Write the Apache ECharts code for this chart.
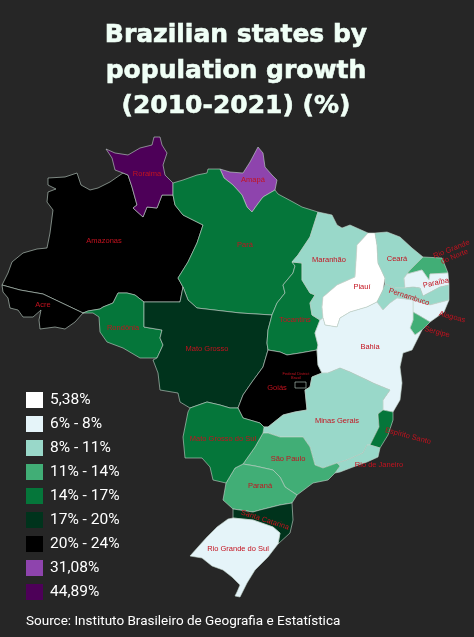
<!DOCTYPE html>
<html lang="en">
<head>
<meta charset="UTF-8">
<title>Brazilian states by population growth</title>
<script src="https://cdn.jsdelivr.net/npm/echarts@6/dist/echarts.min.js"></script>
<style>
html,body{margin:0;padding:0;background:#262626}
#main{width:474px;height:637px}
</style>
</head>
<body>
<div id="main"></div>
<script>
var titleText = 'Brazilian states by\npopulation growth\n(2010-2021) (%)';
var sourceText = 'Source: Instituto Brasileiro de Geografia e Estatística';

// classes of the legend
var classLabels = ['5,38%', '6% - 8%', '8% - 11%', '11% - 14%', '14% - 17%', '17% - 20%', '20% - 24%', '31,08%', '44,89%'];
var classMin = [5.38, 6, 8, 11, 14, 17, 20, 31.08, 44.89];
var classMax = [5.38, 8, 11, 14, 17, 20, 24, 31.08, 44.89];
var classColors = ['#ffffff', '#e5f4f9', '#99d8c9', '#41ae76', '#05763a', '#00331c', '#000000', '#8e44ad', '#4d0058'];

var stateNames = ['Amazonas', 'Acre', 'Rondônia', 'Roraima', 'Amapá', 'Pará', 'Mato Grosso', 'Tocantins', 'Goiás',
    'Maranhão', 'Piauí', 'Ceará', 'Rio Grande do Norte', 'Paraíba', 'Pernambuco', 'Alagoas', 'Sergipe', 'Bahia',
    'Minas Gerais', 'Espírito Santo', 'Rio de Janeiro', 'São Paulo', 'Paraná', 'Mato Grosso do Sul',
    'Santa Catarina', 'Rio Grande do Sul', 'Federal District'];
var stateGrowth = [22, 22, 15.5, 44.89, 31.08, 15.5, 18.5, 15.5, 22,
    9.5, 5.38, 9.5, 12.5, 7, 9.5, 7, 12.5, 7,
    9.5, 15.5, 9.5, 12.5, 12.5, 15.5,
    18.5, 7, 22];

// outlines, flat x,y pairs
var stateOutlines = [
    [2,285,8,273,12,262,23,253,37,249,47,248,50,233,53,210,47,202,48,192,56,189,48,185,48,178,65,177,77,173,81,185,90,190,98,188,110,182,123,173,128,175,132,187,137,205,133,208,143,217,147,207,157,208,162,195,173,195,175,205,183,215,203,225,197,243,188,262,178,278,183,287,180,302,144,302,135,295,127,293,118,293,113,303,103,307,100,309,88,311,83,313,43,294,20,290],
    [2,285,20,290,43,294,83,313,75,322,65,329,55,327,40,329,39,320,41,310,33,317,23,317,18,310,10,308,8,298,3,292],
    [83,313,88,311,100,309,103,307,113,303,118,293,127,293,135,295,144,302,144,327,162,330,160,338,163,345,157,358,140,358,123,348,107,342,100,332,99,317,93,313],
    [106,149,115,153,128,155,140,148,152,145,154,137,160,137,162,145,167,153,163,165,165,175,173,183,173,195,162,195,157,208,147,207,143,217,133,208,137,205,132,187,128,175,123,173,115,170,112,158],
    [220,169,230,172,243,173,250,162,258,147,263,153,265,167,272,175,277,180,275,190,263,197,257,205,252,212,247,207,242,195,233,185,224,178],
    [173,183,183,180,197,175,207,173,208,169,220,169,224,178,233,185,242,195,247,207,252,212,257,205,263,197,275,190,278,194,293,202,302,207,318,212,310,237,298,255,292,262,295,266,293,273,283,285,285,293,277,303,272,315,240,313,197,308,188,300,183,287,178,278,188,262,197,243,203,225,183,215,175,205,173,195],
    [144,302,180,302,183,287,188,300,197,308,240,313,272,315,268,330,267,343,268,350,263,367,252,382,243,395,238,408,230,408,220,405,207,402,190,408,180,402,178,393,160,390,158,373,153,360,157,358,163,345,160,338,162,330,144,327],
    [292,262,302,263,302,280,310,293,315,295,310,303,312,315,320,320,315,333,318,345,317,350,300,353,287,355,280,352,268,350,267,343,268,330,272,315,277,303,285,293,283,285,293,273,295,266],
    [268,350,280,352,287,355,300,353,317,350,318,365,322,373,312,377,310,387,305,390,307,410,295,412,283,415,268,427,264,427,260,423,243,418,238,408,243,395,252,382,263,367],
    [318,212,332,215,337,225,342,228,350,225,368,233,357,245,356,262,355,277,337,285,323,297,322,307,323,318,320,320,312,315,310,303,315,295,310,293,302,280,302,263,292,262,298,255,310,237],
    [368,233,375,233,377,245,378,263,385,278,383,290,377,302,367,307,350,312,340,318,337,327,325,325,323,318,322,307,323,297,337,285,355,277,356,262,357,245],
    [375,233,387,232,400,237,412,248,423,257,410,270,407,274,404,278,405,288,395,288,385,284,385,278,378,263,377,245],
    [423,257,442,258,448,273,430,274,429,280,422,270,407,274,410,270],
    [407,274,422,270,429,280,430,274,448,273,449,285,440,287,423,296,420,288,413,287,405,288,404,278],
    [385,284,395,288,405,288,413,287,420,288,423,296,440,287,449,285,449,300,430,305,413,300,397,298,390,303,383,310,377,302,383,290],
    [449,300,444,312,430,322,420,316,413,312,413,300,430,305],
    [413,312,420,316,430,322,422,330,415,335,410,328,413,320],
    [377,302,383,310,390,303,397,298,413,300,413,312,413,320,410,328,415,335,422,330,417,340,412,350,403,353,400,367,402,383,400,400,393,412,383,410,383,400,390,390,373,383,367,380,350,372,340,368,328,373,322,373,318,365,317,350,318,345,315,333,320,320,323,318,325,325,337,327,340,318,350,312,367,307],
    [340,368,350,372,367,380,373,383,390,390,383,400,383,410,378,414,379,427,370,445,367,445,363,453,347,460,337,463,323,468,315,465,310,447,303,437,280,437,268,433,263,433,264,427,268,427,283,415,295,412,307,410,305,390,310,387,312,377,322,373,328,373],
    [383,410,393,412,393,420,388,435,380,448,370,445,379,427,378,414],
    [367,445,370,445,380,448,378,457,367,462,353,467,340,472,335,473,340,466,337,463,347,460,363,453],
    [263,433,268,433,280,437,303,437,310,447,315,465,323,468,337,463,340,466,335,473,328,480,313,483,297,495,285,487,280,477,273,470,255,466,243,464,255,447],
    [243,464,255,466,273,470,280,477,285,487,297,495,292,503,280,505,260,510,253,512,233,509,223,500,226,483,235,468],
    [238,408,243,418,260,423,264,427,263,433,255,447,243,464,235,468,226,483,213,480,210,467,202,458,185,458,183,437,188,412,190,408,207,402,220,405,230,408],
    [233,509,253,512,260,510,280,505,292,503,293,520,290,533,278,544,280,533,273,527,253,520,233,518],
    [228,519,233,518,253,520,273,527,280,533,278,544,268,557,255,570,247,583,240,597,235,596,237,592,240,585,232,577,223,570,212,566,202,558,190,556,198,547,207,537,217,527],
    [295,382,306,382,306,388,295,388]
];

// where each name is written, and how much it is turned
var labelSpots = [[104,241],[43,305],[123,328],[147,174],[253,180],[245,245],[207,349],[295,320],[277,388],
    [329,260],[362,287],[397,259],[453,253],[436,283],[409,297],[452,317],[437,332],[370,347],
    [337,421],[408,436],[379,465],[288,459],[260,486],[223,439],
    [265,520],[238,549],[296,376]];
var labelTurns = [0,0,0,0,0,0,0,0,0,
    0,0,0,22,12,-18,-15,-15,0,
    0,-15,0,0,0,0,
    -18,0,0];

var features = stateNames.map(function (name, i) {
    var ring = [];
    for (var j = 0; j < stateOutlines[i].length; j += 2) {
        ring.push([stateOutlines[i][j], -stateOutlines[i][j + 1]]);
    }
    ring.push(ring[0]);
    return {
        type: 'Feature',
        properties: {name: name, cp: [labelSpots[i][0], -labelSpots[i][1]]},
        geometry: {type: 'Polygon', coordinates: [ring]}
    };
});
echarts.registerMap('brazil', {type: 'FeatureCollection', features: features});

var seriesData = stateNames.map(function (name, i) {
    var item = {name: name, value: stateGrowth[i], label: {rotate: labelTurns[i]}};
    if (name === 'Federal District') {
        item.label.formatter = 'Federal District\nBrasil';
        item.label.fontSize = 4;
        item.label.lineHeight = 4;
    }
    if (name === 'Rio Grande do Norte') {
        item.label.formatter = 'Rio Grande\ndo Norte';
    }
    return item;
});

var pieces = classLabels.map(function (label, i) {
    if (classMin[i] === classMax[i]) {
        return {value: classMin[i], label: label, color: classColors[i]};
    }
    return {gte: classMin[i], lt: classMax[i], label: label, color: classColors[i]};
});

var myChart = echarts.init(document.getElementById('main'));
myChart.setOption({
    backgroundColor: '#262626',
    animation: false,
    title: [
        {
            text: titleText,
            left: 236,
            top: 18,
            padding: 0,
            textAlign: 'center',
            textStyle: {
                color: '#f0fff6',
                fontFamily: 'DejaVu Sans',
                fontWeight: 'bold',
                fontSize: 25,
                lineHeight: 35.5,
                textBorderColor: '#f0fff6',
                textBorderWidth: 0.6
            }
        },
        {
            text: sourceText,
            left: 26,
            top: 615,
            padding: 0,
            textStyle: {color: '#ffffff', fontFamily: 'Roboto', fontWeight: 'normal', fontSize: 13.5}
        }
    ],
    visualMap: {
        type: 'piecewise',
        pieces: pieces,
        orient: 'vertical',
        inverse: true,
        left: 26,
        top: 392,
        padding: 0,
        itemWidth: 17,
        itemHeight: 16,
        itemGap: 8,
        textGap: 7,
        itemSymbol: 'rect',
        selectedMode: false,
        hoverLink: false,
        seriesIndex: 0,
        textStyle: {color: '#ffffff', fontFamily: 'Roboto', fontSize: 15.5}
    },
    series: [{
        type: 'map',
        map: 'brazil',
        roam: false,
        silent: true,
        aspectScale: 1,
        boundingCoords: [[0, 0], [474, -637]],
        left: 0,
        top: 0,
        width: 474,
        height: 637,
        itemStyle: {borderColor: '#c4d6cc', borderWidth: 0.6},
        label: {show: true, color: '#c4121f', fontFamily: 'Liberation Sans', fontSize: 7.5},
        emphasis: {disabled: true},
        select: {disabled: true},
        data: seriesData
    }]
});
</script>
</body>
</html>
